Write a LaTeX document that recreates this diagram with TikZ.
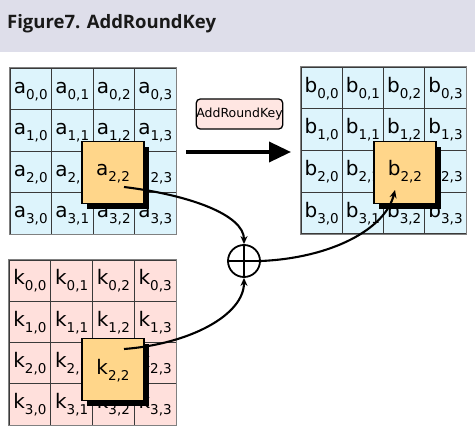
\documentclass[tikz,border=0pt]{standalone}
\usepackage{fontspec}
\setmainfont{DejaVu Sans}
\newfontfamily\headfont{Open Sans}
\usetikzlibrary{arrows.meta,shadows}
\definecolor{hdr}{HTML}{DEDEEA}
\definecolor{bluecell}{HTML}{DDF4FC}
\definecolor{pinkcell}{HTML}{FFE0DC}
\definecolor{hlfill}{HTML}{FFD68A}
\definecolor{opfill}{HTML}{FFE6E2}
\definecolor{gridline}{HTML}{3A3A3A}
\newcommand\mysub[2]{{\fontsize{20}{20}\selectfont #1}\raisebox{-6pt}{\fontsize{13.5}{14}\selectfont #2}}
\newcommand\celltext[3]{\ifnum#2#3=22 \else\mysub{#1}{#2,#3}\fi}
\begin{document}
\begin{tikzpicture}[x=1pt,y=-1pt,
 cellbox/.style={draw=gridline, line width=0.9pt, minimum width=41.5pt, minimum height=41.5pt, inner sep=0pt, text height=15pt, text depth=6.5pt, anchor=center},
 hlbox/.style={draw=black, line width=1.4pt, fill=hlfill, minimum width=62pt, minimum height=62pt, inner sep=0pt, text height=15pt, text depth=10pt, drop shadow={shadow xshift=5pt, shadow yshift=-5pt, opacity=1, fill=black}},
 flow/.style={line width=2.1pt, -{Stealth[length=8pt,width=7pt]}},
 border/.style={draw=gray, line width=1.2pt},
]
\useasboundingbox (0,0) rectangle (475,434);
\fill[hdr] (0,0) rectangle (475,52);
\node[anchor=base west, inner sep=0pt, text=black!90, font=\headfont\bfseries\fontsize{18.5}{18.5}\selectfont] (title) at (7,28) {Figure7. AddRoundKey};

% grids
\foreach \r in {0,...,3} \foreach \c in {0,...,3} {
  \node[cellbox, fill=bluecell] (a\r\c) at ({10+41.5*(\c+0.5)}, {68+41.5*(\r+0.5)}) {\celltext{a}{\r}{\c}};
  \node[cellbox, fill=bluecell, minimum width=41.3pt, minimum height=41.7pt] (b\r\c) at ({301+41.3*(\c+0.5)}, {67+41.7*(\r+0.5)}) {\celltext{b}{\r}{\c}};
  \node[cellbox, fill=pinkcell, minimum width=41.75pt, minimum height=41.25pt] (k\r\c) at ({9+41.75*(\c+0.5)}, {260+41.25*(\r+0.5)}) {\celltext{k}{\r}{\c}};
}
\draw[border] (a00.north west) rectangle (a33.south east);
\draw[border] (b00.north west) rectangle (b33.south east);
\draw[border] (k00.north west) rectangle (k33.south east);

% highlighted cells
\node[hlbox] (ah) at (113,172.5) {\mysub{a}{2,2}};
\node[hlbox] (bh) at (405,172.5) {\mysub{b}{2,2}};
\node[hlbox, text depth=6pt] (kh) at (113,369.5) {\mysub{k}{2,2}};

% operation label and arrow
\node[draw, rounded corners=4pt, fill=opfill, line width=1.3pt, minimum width=83pt, minimum height=30pt, inner sep=0pt, font=\fontsize{12.5}{13}\selectfont] (op) at (239.5,114) {AddRoundKey};
\coordinate (ar1) at (186,152);
\coordinate (ar2) at (291,152);
\draw[line width=3.6pt, -{Triangle[length=22pt,width=20pt]}] (ar1) -- (ar2);

% xor
\node[circle, draw, line width=1.8pt, minimum size=32pt, inner sep=0pt] (xor) at (244,261) {};
\draw[line width=1.8pt] (xor.north) -- (xor.south) (xor.west) -- (xor.east);

\coordinate (s1) at (124,187);
\coordinate (s2) at (124,349);
\coordinate (e3) at (395,190);
\draw[flow] (s1) .. controls (190,195) and (244,215) .. (xor.north);
\draw[flow] (s2) .. controls (190,344) and (244,315) .. (xor.south);
\draw[flow] (xor.east) .. controls (330,258) and (385,230) .. (e3);
\end{tikzpicture}
\end{document}
